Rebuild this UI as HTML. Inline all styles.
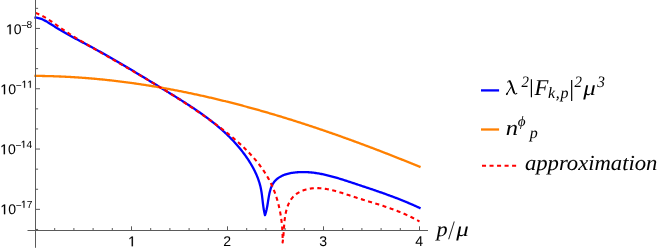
<!DOCTYPE html>
<html><head><meta charset="utf-8"><title>plot</title>
<style>
html,body{margin:0;padding:0;background:#fff;}
body{width:664px;height:252px;overflow:hidden;}
svg{display:block;}
text{font-size:100px;fill:#000;text-rendering:geometricPrecision;}
.ss{font-family:"Liberation Sans",sans-serif;}
.lab text,.lab path{stroke:#000;stroke-width:0.18px;vector-effect:non-scaling-stroke;}
.sr{font-family:"Liberation Serif",serif;}
.si{font-family:"Liberation Serif",serif;font-style:italic;}
</style></head><body>
<svg width="664" height="252" viewBox="0 0 664 252">
<rect width="664" height="252" fill="#fff"/>
<g fill="none" stroke-width="2.3" stroke-linejoin="round">
<path d="M35.50,17.68 L36.51,17.72 L37.51,17.84 L38.48,18.03 L39.45,18.28 L40.39,18.58 L41.33,18.93 L42.25,19.31 L43.16,19.73 L44.06,20.17 L44.95,20.64 L45.83,21.12 L46.70,21.62 L47.56,22.13 L48.42,22.64 L49.27,23.16 L50.12,23.69 L50.97,24.23 L51.81,24.76 L52.65,25.30 L53.49,25.84 L54.33,26.38 L55.17,26.92 L56.02,27.45 L56.86,27.99 L57.71,28.51 L58.56,29.04 L59.41,29.55 L60.27,30.07 L61.13,30.58 L61.99,31.09 L62.85,31.60 L63.72,32.10 L64.58,32.60 L65.45,33.09 L66.32,33.59 L67.20,34.08 L68.07,34.57 L68.95,35.05 L69.82,35.54 L70.70,36.02 L71.58,36.50 L72.47,36.98 L73.35,37.45 L74.23,37.93 L75.12,38.40 L76.00,38.88 L76.89,39.35 L77.77,39.82 L78.66,40.29 L79.55,40.76 L80.43,41.22 L81.32,41.69 L82.21,42.16 L83.10,42.63 L83.98,43.09 L84.87,43.56 L85.76,44.03 L86.64,44.50 L87.53,44.97 L88.41,45.43 L89.30,45.90 L90.18,46.38 L91.06,46.85 L91.95,47.32 L92.83,47.80 L93.71,48.27 L94.58,48.75 L95.46,49.23 L96.34,49.70 L97.21,50.18 L98.09,50.66 L98.96,51.15 L99.84,51.63 L100.71,52.11 L101.58,52.60 L102.45,53.08 L103.32,53.57 L104.19,54.06 L105.06,54.55 L105.92,55.04 L106.79,55.53 L107.66,56.02 L108.52,56.51 L109.39,57.00 L110.25,57.50 L111.12,57.99 L111.98,58.49 L112.84,58.98 L113.70,59.48 L114.57,59.98 L115.43,60.48 L116.29,60.97 L117.15,61.47 L118.01,61.98 L118.86,62.48 L119.72,62.98 L120.58,63.48 L121.44,63.99 L122.30,64.49 L123.15,64.99 L124.01,65.50 L124.87,66.01 L125.72,66.51 L126.58,67.02 L127.43,67.53 L128.29,68.04 L129.14,68.55 L130.00,69.06 L130.85,69.57 L131.71,70.08 L132.56,70.59 L133.41,71.10 L134.27,71.61 L135.12,72.13 L135.97,72.64 L136.83,73.15 L137.68,73.67 L138.53,74.18 L139.39,74.70 L140.24,75.21 L141.09,75.73 L141.95,76.25 L142.80,76.76 L143.65,77.28 L144.51,77.80 L145.36,78.32 L146.21,78.83 L147.07,79.35 L147.92,79.87 L148.77,80.39 L149.63,80.91 L150.48,81.43 L151.34,81.95 L152.19,82.47 L153.05,82.99 L153.90,83.51 L154.76,84.03 L155.61,84.55 L156.47,85.07 L157.33,85.60 L158.18,86.12 L159.04,86.64 L159.90,87.16 L160.75,87.68 L161.61,88.20 L162.47,88.73 L163.33,89.25 L164.19,89.77 L165.05,90.29 L165.91,90.82 L166.77,91.34 L167.63,91.87 L168.49,92.39 L169.35,92.91 L170.21,93.44 L171.07,93.97 L171.93,94.49 L172.79,95.02 L173.64,95.55 L174.50,96.08 L175.36,96.61 L176.22,97.14 L177.08,97.67 L177.93,98.20 L178.79,98.74 L179.64,99.27 L180.50,99.81 L181.35,100.35 L182.20,100.88 L183.05,101.42 L183.90,101.96 L184.75,102.51 L185.60,103.05 L186.45,103.60 L187.30,104.14 L188.14,104.69 L188.98,105.24 L189.83,105.79 L190.67,106.35 L191.51,106.90 L192.35,107.46 L193.18,108.02 L194.02,108.58 L194.85,109.14 L195.68,109.70 L196.51,110.27 L197.34,110.84 L198.16,111.41 L198.99,111.98 L199.81,112.56 L200.63,113.14 L201.45,113.72 L202.26,114.30 L203.08,114.88 L203.89,115.47 L204.70,116.06 L205.50,116.65 L206.31,117.24 L207.11,117.84 L207.91,118.44 L208.70,119.05 L209.50,119.65 L210.29,120.26 L211.08,120.87 L211.86,121.48 L212.64,122.10 L213.42,122.72 L214.20,123.35 L214.97,123.97 L215.75,124.60 L216.51,125.23 L217.28,125.87 L218.04,126.51 L218.80,127.15 L219.55,127.80 L220.30,128.45 L221.05,129.10 L221.79,129.76 L222.53,130.42 L223.27,131.08 L224.00,131.75 L224.73,132.42 L225.46,133.10 L226.18,133.78 L226.90,134.46 L227.61,135.15 L228.32,135.84 L229.03,136.53 L229.73,137.23 L230.43,137.93 L231.12,138.64 L231.81,139.35 L232.49,140.07 L233.18,140.79 L233.85,141.51 L234.52,142.24 L235.19,142.97 L235.85,143.71 L236.51,144.45 L237.16,145.20 L237.81,145.95 L238.46,146.71 L239.09,147.47 L239.73,148.24 L240.36,149.01 L240.98,149.78 L241.60,150.56 L242.21,151.35 L242.82,152.14 L243.42,152.93 L244.02,153.73 L244.61,154.54 L245.20,155.35 L245.78,156.17 L246.36,156.99 L246.93,157.81 L247.49,158.65 L248.05,159.48 L248.61,160.33 L249.15,161.18 L249.69,162.03 L250.22,162.89 L250.75,163.75 L251.26,164.62 L251.77,165.49 L252.27,166.37 L252.76,167.25 L253.25,168.14 L253.72,169.03 L254.18,169.93 L254.63,170.83 L255.08,171.74 L255.51,172.65 L255.93,173.56 L256.34,174.48 L256.74,175.41 L257.12,176.34 L257.50,177.27 L257.86,178.20 L258.21,179.14 L258.54,180.09 L258.86,181.04 L259.17,181.99 L259.47,182.94 L259.74,183.90 L260.01,184.87 L260.26,185.83 L260.49,186.80 L260.71,187.78 L260.91,188.75 L261.10,189.73 L261.28,190.72 L261.44,191.70 L261.60,192.69 L261.74,193.68 L261.88,194.67 L262.01,195.66 L262.13,196.66 L262.25,197.65 L262.37,198.65 L262.49,199.65 L262.60,200.64 L262.72,201.64 L262.83,202.64 L262.95,203.63 L263.08,204.63 L263.21,205.62 L263.34,206.61 L263.49,207.60 L263.64,208.59 L263.80,209.58 L263.98,210.56 L264.16,211.55 L264.37,212.52 L264.58,213.50 L264.81,214.47 L265.00,215.20 L265.30,214.32 L265.58,213.44 L265.84,212.54 L266.09,211.63 L266.32,210.72 L266.54,209.79 L266.74,208.85 L266.93,207.89 L267.12,206.93 L267.30,205.95 L267.47,204.96 L267.63,203.96 L267.80,202.94 L267.96,201.91 L268.13,200.86 L268.30,199.80 L268.47,198.73 L268.65,197.66 L268.83,196.58 L269.03,195.49 L269.24,194.42 L269.47,193.34 L269.71,192.28 L269.97,191.23 L270.26,190.19 L270.56,189.18 L270.89,188.18 L271.25,187.21 L271.64,186.26 L272.06,185.35 L272.52,184.47 L273.01,183.63 L273.53,182.82 L274.09,182.05 L274.68,181.32 L275.31,180.62 L275.96,179.96 L276.64,179.33 L277.35,178.73 L278.09,178.17 L278.85,177.63 L279.64,177.13 L280.45,176.65 L281.28,176.21 L282.14,175.79 L283.01,175.40 L283.90,175.03 L284.81,174.70 L285.73,174.38 L286.67,174.09 L287.62,173.82 L288.58,173.58 L289.55,173.36 L290.53,173.15 L291.52,172.97 L292.52,172.81 L293.52,172.66 L294.53,172.54 L295.54,172.43 L296.55,172.33 L297.57,172.25 L298.58,172.19 L299.59,172.14 L300.60,172.10 L301.61,172.08 L302.62,172.07 L303.62,172.07 L304.63,172.08 L305.63,172.11 L306.63,172.15 L307.63,172.20 L308.63,172.26 L309.62,172.33 L310.62,172.42 L311.62,172.51 L312.61,172.62 L313.60,172.73 L314.59,172.86 L315.58,172.99 L316.57,173.14 L317.56,173.29 L318.54,173.46 L319.53,173.63 L320.51,173.81 L321.49,174.00 L322.47,174.19 L323.45,174.40 L324.43,174.61 L325.41,174.83 L326.39,175.05 L327.36,175.28 L328.34,175.52 L329.31,175.77 L330.29,176.02 L331.26,176.27 L332.23,176.53 L333.20,176.80 L334.17,177.07 L335.14,177.35 L336.10,177.63 L337.07,177.91 L338.03,178.20 L339.00,178.49 L339.96,178.79 L340.93,179.09 L341.89,179.39 L342.85,179.69 L343.81,180.00 L344.77,180.31 L345.73,180.62 L346.69,180.93 L347.64,181.25 L348.60,181.56 L349.56,181.88 L350.51,182.19 L351.47,182.51 L352.42,182.83 L353.38,183.14 L354.33,183.46 L355.28,183.77 L356.24,184.09 L357.19,184.40 L358.14,184.72 L359.09,185.03 L360.04,185.35 L360.99,185.66 L361.94,185.98 L362.88,186.29 L363.83,186.61 L364.78,186.92 L365.73,187.24 L366.67,187.56 L367.62,187.87 L368.56,188.19 L369.51,188.51 L370.45,188.82 L371.39,189.14 L372.34,189.46 L373.28,189.78 L374.22,190.10 L375.16,190.42 L376.10,190.75 L377.04,191.07 L377.98,191.39 L378.92,191.72 L379.86,192.05 L380.80,192.38 L381.73,192.70 L382.67,193.04 L383.61,193.37 L384.54,193.70 L385.48,194.04 L386.41,194.37 L387.35,194.71 L388.28,195.05 L389.21,195.39 L390.15,195.74 L391.08,196.08 L392.01,196.43 L392.94,196.78 L393.87,197.13 L394.80,197.48 L395.73,197.84 L396.66,198.19 L397.59,198.55 L398.52,198.92 L399.45,199.28 L400.37,199.65 L401.30,200.02 L402.23,200.39 L403.15,200.76 L404.08,201.14 L405.00,201.52 L405.93,201.90 L406.85,202.29 L407.77,202.68 L408.70,203.07 L409.62,203.46 L410.54,203.86 L411.46,204.26 L412.38,204.66 L413.31,205.07 L414.23,205.48 L415.15,205.89 L416.07,206.31 L416.98,206.73 L417.90,207.15 L418.82,207.58 L419.50,207.90" stroke="#0000ff" stroke-linecap="square"/>
<path d="M35.50,75.90 L36.50,75.91 L37.51,75.92 L38.51,75.93 L39.52,75.94 L40.52,75.95 L41.53,75.97 L42.53,75.98 L43.53,76.00 L44.54,76.02 L45.54,76.04 L46.55,76.06 L47.55,76.08 L48.55,76.11 L49.55,76.13 L50.56,76.16 L51.56,76.19 L52.56,76.22 L53.56,76.25 L54.57,76.29 L55.57,76.32 L56.57,76.36 L57.57,76.40 L58.57,76.43 L59.57,76.48 L60.57,76.52 L61.58,76.56 L62.58,76.61 L63.58,76.65 L64.58,76.70 L65.58,76.75 L66.58,76.80 L67.58,76.85 L68.58,76.90 L69.58,76.96 L70.58,77.01 L71.58,77.07 L72.58,77.13 L73.57,77.19 L74.57,77.25 L75.57,77.32 L76.57,77.38 L77.57,77.45 L78.57,77.51 L79.56,77.58 L80.56,77.65 L81.56,77.72 L82.56,77.79 L83.56,77.87 L84.55,77.94 L85.55,78.02 L86.55,78.10 L87.54,78.18 L88.54,78.26 L89.54,78.34 L90.53,78.42 L91.53,78.51 L92.52,78.59 L93.52,78.68 L94.51,78.77 L95.51,78.86 L96.50,78.95 L97.50,79.04 L98.49,79.14 L99.49,79.23 L100.48,79.33 L101.48,79.43 L102.47,79.52 L103.47,79.62 L104.46,79.73 L105.45,79.83 L106.45,79.93 L107.44,80.04 L108.43,80.15 L109.43,80.25 L110.42,80.36 L111.41,80.47 L112.40,80.59 L113.40,80.70 L114.39,80.81 L115.38,80.93 L116.37,81.05 L117.36,81.16 L118.35,81.28 L119.34,81.41 L120.34,81.53 L121.33,81.65 L122.32,81.78 L123.31,81.90 L124.30,82.03 L125.29,82.16 L126.28,82.29 L127.27,82.42 L128.26,82.55 L129.25,82.68 L130.24,82.82 L131.22,82.95 L132.21,83.09 L133.20,83.23 L134.19,83.37 L135.18,83.51 L136.17,83.65 L137.15,83.79 L138.14,83.93 L139.13,84.08 L140.12,84.23 L141.10,84.37 L142.09,84.52 L143.08,84.67 L144.06,84.82 L145.05,84.98 L146.04,85.13 L147.02,85.29 L148.01,85.44 L148.99,85.60 L149.98,85.76 L150.97,85.92 L151.95,86.08 L152.94,86.24 L153.92,86.40 L154.90,86.57 L155.89,86.73 L156.87,86.90 L157.86,87.07 L158.84,87.23 L159.82,87.40 L160.81,87.58 L161.79,87.75 L162.77,87.92 L163.76,88.10 L164.74,88.27 L165.72,88.45 L166.70,88.63 L167.69,88.80 L168.67,88.98 L169.65,89.17 L170.63,89.35 L171.61,89.53 L172.59,89.72 L173.58,89.90 L174.56,90.09 L175.54,90.28 L176.52,90.46 L177.50,90.65 L178.48,90.85 L179.46,91.04 L180.44,91.23 L181.42,91.43 L182.40,91.62 L183.37,91.82 L184.35,92.01 L185.33,92.21 L186.31,92.41 L187.29,92.61 L188.27,92.82 L189.24,93.02 L190.22,93.22 L191.20,93.43 L192.18,93.63 L193.15,93.84 L194.13,94.05 L195.11,94.26 L196.08,94.47 L197.06,94.68 L198.04,94.89 L199.01,95.11 L199.99,95.32 L200.96,95.53 L201.94,95.75 L202.91,95.97 L203.89,96.19 L204.86,96.41 L205.84,96.63 L206.81,96.85 L207.79,97.07 L208.76,97.29 L209.73,97.52 L210.71,97.74 L211.68,97.97 L212.65,98.20 L213.62,98.43 L214.60,98.66 L215.57,98.89 L216.54,99.12 L217.51,99.35 L218.49,99.58 L219.46,99.82 L220.43,100.05 L221.40,100.29 L222.37,100.53 L223.34,100.77 L224.31,101.00 L225.28,101.24 L226.25,101.49 L227.22,101.73 L228.19,101.97 L229.16,102.21 L230.13,102.46 L231.10,102.71 L232.07,102.95 L233.04,103.20 L234.01,103.45 L234.97,103.70 L235.94,103.95 L236.91,104.20 L237.88,104.45 L238.85,104.71 L239.81,104.96 L240.78,105.22 L241.75,105.47 L242.71,105.73 L243.68,105.99 L244.65,106.24 L245.61,106.50 L246.58,106.76 L247.54,107.03 L248.51,107.29 L249.47,107.55 L250.44,107.82 L251.40,108.08 L252.37,108.35 L253.33,108.61 L254.30,108.88 L255.26,109.15 L256.22,109.42 L257.19,109.69 L258.15,109.96 L259.11,110.23 L260.08,110.50 L261.04,110.78 L262.00,111.05 L262.96,111.33 L263.92,111.60 L264.89,111.88 L265.85,112.16 L266.81,112.44 L267.77,112.72 L268.73,113.00 L269.69,113.28 L270.65,113.56 L271.61,113.84 L272.57,114.13 L273.53,114.41 L274.49,114.70 L275.45,114.98 L276.41,115.27 L277.37,115.56 L278.32,115.85 L279.28,116.14 L280.24,116.43 L281.20,116.72 L282.16,117.01 L283.11,117.30 L284.07,117.59 L285.03,117.89 L285.99,118.18 L286.94,118.48 L287.90,118.78 L288.85,119.07 L289.81,119.37 L290.77,119.67 L291.72,119.97 L292.68,120.27 L293.63,120.57 L294.59,120.87 L295.54,121.18 L296.49,121.48 L297.45,121.78 L298.40,122.09 L299.36,122.39 L300.31,122.70 L301.26,123.01 L302.22,123.31 L303.17,123.62 L304.12,123.93 L305.07,124.24 L306.02,124.55 L306.98,124.86 L307.93,125.18 L308.88,125.49 L309.83,125.80 L310.78,126.12 L311.73,126.43 L312.68,126.75 L313.63,127.06 L314.58,127.38 L315.53,127.70 L316.48,128.02 L317.43,128.34 L318.38,128.66 L319.33,128.98 L320.28,129.30 L321.22,129.62 L322.17,129.94 L323.12,130.27 L324.07,130.59 L325.01,130.92 L325.96,131.24 L326.91,131.57 L327.86,131.89 L328.80,132.22 L329.75,132.55 L330.69,132.88 L331.64,133.21 L332.58,133.54 L333.53,133.87 L334.47,134.20 L335.42,134.53 L336.36,134.86 L337.31,135.20 L338.25,135.53 L339.20,135.86 L340.14,136.20 L341.08,136.53 L342.03,136.87 L342.97,137.21 L343.91,137.55 L344.85,137.88 L345.80,138.22 L346.74,138.56 L347.68,138.90 L348.62,139.24 L349.56,139.58 L350.50,139.92 L351.44,140.27 L352.38,140.61 L353.32,140.95 L354.26,141.30 L355.20,141.64 L356.14,141.99 L357.08,142.33 L358.02,142.68 L358.96,143.03 L359.90,143.37 L360.83,143.72 L361.77,144.07 L362.71,144.42 L363.65,144.77 L364.58,145.12 L365.52,145.47 L366.46,145.82 L367.39,146.17 L368.33,146.53 L369.27,146.88 L370.20,147.23 L371.14,147.59 L372.07,147.94 L373.01,148.30 L373.94,148.65 L374.88,149.01 L375.81,149.37 L376.74,149.72 L377.68,150.08 L378.61,150.44 L379.55,150.80 L380.48,151.16 L381.41,151.52 L382.34,151.88 L383.28,152.24 L384.21,152.60 L385.14,152.96 L386.07,153.32 L387.00,153.69 L387.93,154.05 L388.86,154.41 L389.79,154.78 L390.72,155.14 L391.65,155.51 L392.58,155.87 L393.51,156.24 L394.44,156.61 L395.37,156.97 L396.30,157.34 L397.23,157.71 L398.15,158.08 L399.08,158.45 L400.01,158.82 L400.94,159.19 L401.86,159.56 L402.79,159.93 L403.72,160.30 L404.64,160.67 L405.57,161.04 L406.50,161.41 L407.42,161.79 L408.35,162.16 L409.27,162.53 L410.20,162.91 L411.12,163.28 L412.04,163.66 L412.97,164.03 L413.89,164.41 L414.82,164.78 L415.74,165.16 L416.66,165.54 L417.58,165.91 L418.51,166.29 L419.43,166.67 L419.50,166.70" stroke="#ff8000" stroke-linecap="square"/>
<path d="M35.50,12.90 L36.45,13.26 L37.39,13.64 L38.32,14.03 L39.24,14.44 L40.15,14.87 L41.05,15.30 L41.94,15.75 L42.82,16.21 L43.69,16.69 L44.56,17.17 L45.42,17.67 L46.27,18.17 L47.12,18.69 L47.96,19.21 L48.79,19.74 L49.62,20.28 L50.45,20.82 L51.27,21.37 L52.09,21.93 L52.90,22.49 L53.71,23.05 L54.53,23.62 L55.34,24.19 L56.15,24.77 L56.95,25.34 L57.76,25.92 L58.57,26.49 L59.38,27.07 L60.20,27.64 L61.01,28.22 L61.83,28.79 L62.65,29.36 L63.47,29.92 L64.30,30.48 L65.13,31.04 L65.96,31.59 L66.80,32.15 L67.64,32.69 L68.48,33.24 L69.32,33.78 L70.17,34.32 L71.02,34.86 L71.87,35.40 L72.72,35.93 L73.58,36.46 L74.43,36.99 L75.29,37.52 L76.15,38.04 L77.01,38.57 L77.88,39.09 L78.74,39.61 L79.61,40.13 L80.47,40.64 L81.34,41.16 L82.21,41.67 L83.08,42.19 L83.95,42.70 L84.82,43.21 L85.69,43.72 L86.56,44.23 L87.43,44.74 L88.30,45.24 L89.17,45.75 L90.04,46.26 L90.91,46.76 L91.78,47.27 L92.65,47.77 L93.52,48.28 L94.39,48.78 L95.26,49.29 L96.13,49.79 L97.00,50.30 L97.86,50.80 L98.73,51.30 L99.60,51.80 L100.47,52.31 L101.34,52.81 L102.20,53.31 L103.07,53.81 L103.94,54.31 L104.80,54.81 L105.67,55.31 L106.54,55.81 L107.40,56.31 L108.27,56.81 L109.14,57.31 L110.00,57.81 L110.87,58.31 L111.73,58.81 L112.60,59.31 L113.46,59.81 L114.32,60.31 L115.19,60.81 L116.05,61.31 L116.91,61.81 L117.78,62.30 L118.64,62.80 L119.50,63.30 L120.37,63.80 L121.23,64.30 L122.09,64.80 L122.95,65.30 L123.81,65.80 L124.67,66.30 L125.53,66.80 L126.39,67.30 L127.25,67.80 L128.11,68.30 L128.97,68.80 L129.83,69.30 L130.69,69.80 L131.55,70.30 L132.41,70.80 L133.27,71.30 L134.12,71.81 L134.98,72.31 L135.84,72.81 L136.70,73.31 L137.55,73.82 L138.41,74.32 L139.26,74.82 L140.12,75.33 L140.98,75.83 L141.83,76.34 L142.69,76.84 L143.54,77.35 L144.39,77.85 L145.25,78.36 L146.10,78.87 L146.95,79.38 L147.81,79.88 L148.66,80.39 L149.51,80.90 L150.36,81.41 L151.21,81.92 L152.06,82.43 L152.91,82.94 L153.76,83.46 L154.61,83.97 L155.46,84.48 L156.31,85.00 L157.16,85.51 L158.01,86.03 L158.86,86.55 L159.71,87.06 L160.55,87.58 L161.40,88.10 L162.25,88.62 L163.09,89.14 L163.94,89.66 L164.78,90.18 L165.63,90.70 L166.47,91.23 L167.32,91.75 L168.16,92.28 L169.01,92.80 L169.85,93.33 L170.69,93.86 L171.53,94.39 L172.38,94.92 L173.22,95.45 L174.06,95.98 L174.90,96.51 L175.74,97.05 L176.58,97.58 L177.42,98.12 L178.26,98.65 L179.10,99.19 L179.93,99.73 L180.77,100.27 L181.61,100.81 L182.45,101.35 L183.28,101.90 L184.12,102.44 L184.96,102.99 L185.79,103.54 L186.62,104.08 L187.46,104.63 L188.29,105.19 L189.13,105.74 L189.96,106.29 L190.79,106.85 L191.62,107.40 L192.46,107.96 L193.29,108.52 L194.12,109.08 L194.95,109.64 L195.78,110.20 L196.61,110.77 L197.44,111.33 L198.26,111.90 L199.09,112.47 L199.92,113.04 L200.75,113.61 L201.57,114.18 L202.40,114.75 L203.22,115.33 L204.05,115.91 L204.87,116.49 L205.70,117.07 L206.52,117.65 L207.34,118.23 L208.17,118.82 L208.99,119.40 L209.81,119.99 L210.63,120.58 L211.45,121.17 L212.27,121.77 L213.09,122.36 L213.91,122.96 L214.73,123.56 L215.54,124.16 L216.36,124.76 L217.18,125.36 L217.99,125.97 L218.80,126.58 L219.61,127.19 L220.42,127.80 L221.23,128.41 L222.04,129.03 L222.85,129.65 L223.65,130.27 L224.45,130.89 L225.25,131.52 L226.05,132.15 L226.84,132.78 L227.64,133.41 L228.43,134.04 L229.22,134.68 L230.00,135.32 L230.79,135.96 L231.57,136.61 L232.35,137.26 L233.12,137.91 L233.90,138.56 L234.66,139.22 L235.43,139.87 L236.19,140.54 L236.95,141.20 L237.71,141.87 L238.46,142.54 L239.21,143.21 L239.96,143.89 L240.70,144.57 L241.44,145.25 L242.17,145.94 L242.90,146.63 L243.62,147.32 L244.35,148.01 L245.06,148.71 L245.78,149.42 L246.48,150.12 L247.19,150.83 L247.89,151.54 L248.58,152.26 L249.27,152.98 L249.95,153.70 L250.63,154.43 L251.31,155.16 L251.97,155.90 L252.64,156.63 L253.29,157.38 L253.95,158.12 L254.59,158.87 L255.23,159.62 L255.87,160.38 L256.50,161.14 L257.12,161.91 L257.74,162.68 L258.35,163.45 L258.95,164.23 L259.55,165.01 L260.14,165.80 L260.73,166.59 L261.31,167.39 L261.88,168.18 L262.44,168.99 L263.00,169.80 L263.55,170.61 L264.10,171.43 L264.63,172.25 L265.16,173.07 L265.69,173.91 L266.20,174.74 L266.71,175.58 L267.21,176.43 L267.70,177.28 L268.18,178.13 L268.66,178.99 L269.13,179.86 L269.59,180.73 L270.04,181.60 L270.48,182.48 L270.92,183.36 L271.34,184.25 L271.76,185.15 L272.17,186.05 L272.57,186.95 L272.96,187.86 L273.34,188.78 L273.72,189.70 L274.09,190.62 L274.44,191.55 L274.79,192.48 L275.13,193.42 L275.47,194.36 L275.79,195.31 L276.11,196.26 L276.42,197.21 L276.72,198.16 L277.01,199.12 L277.29,200.09 L277.57,201.05 L277.84,202.02 L278.10,202.99 L278.35,203.97 L278.60,204.95 L278.84,205.93 L279.06,206.91 L279.29,207.89 L279.50,208.88 L279.71,209.87 L279.91,210.86 L280.10,211.85 L280.28,212.85 L280.46,213.84 L280.63,214.84 L280.79,215.84 L280.95,216.84 L281.10,217.84 L281.24,218.84 L281.37,219.84 L281.50,220.84 L281.62,221.85 L281.73,222.85 L281.84,223.85 L281.93,224.86 L282.03,225.86 L282.11,226.87 L282.19,227.87 L282.26,228.87 L282.33,229.87 L282.39,230.88 L282.44,231.88 L282.48,232.88 L282.52,233.88 L282.56,234.87 L282.58,235.87 L282.60,236.87 L282.62,237.86 L282.62,238.85 L282.63,239.84 L282.62,240.83 L282.61,241.82 L282.60,242.50 L282.75,241.56 L282.88,240.62 L283.00,239.66 L283.12,238.70 L283.22,237.73 L283.31,236.75 L283.40,235.77 L283.48,234.78 L283.56,233.79 L283.63,232.79 L283.70,231.78 L283.77,230.78 L283.84,229.76 L283.91,228.75 L283.97,227.73 L284.05,226.71 L284.12,225.69 L284.20,224.67 L284.28,223.65 L284.37,222.62 L284.47,221.60 L284.57,220.57 L284.69,219.55 L284.82,218.53 L284.95,217.51 L285.10,216.49 L285.27,215.48 L285.44,214.47 L285.64,213.46 L285.85,212.45 L286.08,211.46 L286.33,210.46 L286.59,209.47 L286.88,208.49 L287.19,207.52 L287.52,206.56 L287.88,205.61 L288.25,204.68 L288.66,203.76 L289.09,202.85 L289.54,201.97 L290.02,201.11 L290.53,200.27 L291.07,199.45 L291.64,198.66 L292.24,197.90 L292.87,197.16 L293.53,196.45 L294.23,195.78 L294.95,195.14 L295.70,194.52 L296.48,193.94 L297.28,193.39 L298.11,192.87 L298.95,192.37 L299.81,191.91 L300.69,191.47 L301.58,191.07 L302.49,190.69 L303.40,190.34 L304.33,190.01 L305.26,189.72 L306.20,189.45 L307.14,189.21 L308.08,188.99 L309.03,188.80 L309.98,188.64 L310.93,188.49 L311.89,188.38 L312.85,188.28 L313.81,188.21 L314.78,188.16 L315.74,188.13 L316.71,188.12 L317.69,188.14 L318.66,188.17 L319.64,188.22 L320.62,188.28 L321.60,188.37 L322.58,188.47 L323.57,188.59 L324.55,188.72 L325.54,188.87 L326.53,189.04 L327.52,189.21 L328.51,189.40 L329.50,189.61 L330.49,189.82 L331.49,190.05 L332.48,190.28 L333.47,190.53 L334.47,190.79 L335.46,191.05 L336.46,191.33 L337.45,191.61 L338.45,191.90 L339.44,192.19 L340.43,192.49 L341.43,192.79 L342.42,193.10 L343.41,193.42 L344.40,193.74 L345.39,194.05 L346.38,194.38 L347.37,194.70 L348.36,195.02 L349.34,195.35 L350.32,195.67 L351.30,195.99 L352.28,196.31 L353.26,196.63 L354.24,196.95 L355.21,197.26 L356.18,197.57 L357.15,197.88 L358.12,198.18 L359.08,198.49 L360.05,198.79 L361.01,199.09 L361.97,199.38 L362.93,199.68 L363.88,199.97 L364.84,200.26 L365.79,200.56 L366.74,200.85 L367.69,201.14 L368.64,201.43 L369.58,201.71 L370.53,202.00 L371.47,202.29 L372.41,202.58 L373.35,202.87 L374.29,203.16 L375.23,203.45 L376.17,203.74 L377.10,204.03 L378.03,204.33 L378.97,204.62 L379.90,204.92 L380.83,205.21 L381.76,205.51 L382.69,205.81 L383.61,206.12 L384.54,206.42 L385.46,206.73 L386.39,207.04 L387.31,207.35 L388.23,207.67 L389.16,207.99 L390.08,208.31 L391.00,208.64 L391.92,208.97 L392.84,209.30 L393.75,209.64 L394.67,209.98 L395.59,210.33 L396.51,210.68 L397.42,211.04 L398.34,211.40 L399.25,211.76 L400.17,212.13 L401.08,212.51 L402.00,212.89 L402.91,213.28 L403.82,213.67 L404.74,214.07 L405.65,214.48 L406.56,214.89 L407.48,215.31 L408.39,215.73 L409.30,216.16 L410.21,216.60 L411.13,217.05 L412.04,217.50 L412.95,217.96 L413.87,218.43 L414.78,218.91 L415.69,219.39 L416.61,219.89 L417.52,220.39 L418.44,220.90 L419.35,221.42 L419.50,221.50" stroke="#ff0000" stroke-width="2.1" stroke-dasharray="4.05,3.47"/>
</g>
<g stroke="#5a5a5a" stroke-width="1" fill="none">
<line x1="35.5" y1="0" x2="35.5" y2="247.8"/>
<line x1="27.5" y1="230.5" x2="428.0" y2="230.5"/>
<line x1="35.50" y1="8.35" x2="38.10" y2="8.35"/>
<line x1="35.50" y1="28.45" x2="40.00" y2="28.45"/>
<line x1="35.50" y1="48.55" x2="38.10" y2="48.55"/>
<line x1="35.50" y1="68.65" x2="38.10" y2="68.65"/>
<line x1="35.50" y1="88.75" x2="40.00" y2="88.75"/>
<line x1="35.50" y1="108.85" x2="38.10" y2="108.85"/>
<line x1="35.50" y1="128.95" x2="38.10" y2="128.95"/>
<line x1="35.50" y1="149.05" x2="40.00" y2="149.05"/>
<line x1="35.50" y1="169.15" x2="38.10" y2="169.15"/>
<line x1="35.50" y1="189.25" x2="38.10" y2="189.25"/>
<line x1="35.50" y1="209.35" x2="40.00" y2="209.35"/>
<line x1="35.50" y1="229.45" x2="38.10" y2="229.45"/>
<line x1="54.70" y1="230.50" x2="54.70" y2="228.00"/>
<line x1="73.90" y1="230.50" x2="73.90" y2="228.00"/>
<line x1="93.10" y1="230.50" x2="93.10" y2="228.00"/>
<line x1="112.30" y1="230.50" x2="112.30" y2="228.00"/>
<line x1="131.50" y1="230.50" x2="131.50" y2="226.30"/>
<line x1="150.70" y1="230.50" x2="150.70" y2="228.00"/>
<line x1="169.90" y1="230.50" x2="169.90" y2="228.00"/>
<line x1="189.10" y1="230.50" x2="189.10" y2="228.00"/>
<line x1="208.30" y1="230.50" x2="208.30" y2="228.00"/>
<line x1="227.50" y1="230.50" x2="227.50" y2="226.30"/>
<line x1="246.70" y1="230.50" x2="246.70" y2="228.00"/>
<line x1="265.90" y1="230.50" x2="265.90" y2="228.00"/>
<line x1="285.10" y1="230.50" x2="285.10" y2="228.00"/>
<line x1="304.30" y1="230.50" x2="304.30" y2="228.00"/>
<line x1="323.50" y1="230.50" x2="323.50" y2="226.30"/>
<line x1="342.70" y1="230.50" x2="342.70" y2="228.00"/>
<line x1="361.90" y1="230.50" x2="361.90" y2="228.00"/>
<line x1="381.10" y1="230.50" x2="381.10" y2="228.00"/>
<line x1="400.30" y1="230.50" x2="400.30" y2="228.00"/>
<line x1="419.50" y1="230.50" x2="419.50" y2="226.30"/>
</g>
<g style="opacity:0.999">
<g class="lab">
<path d="M515 0L515 -1237L197 -1010L197 -1180L530 -1409L696 -1409L696 0Z" transform="matrix(0.00688 0 0 0.00688 5.99 34.19)" fill="#000"/>
<text class="ss" transform="matrix(0.1410 0 0 0.1410 13.83 34.19)">0</text>
<text class="ss" transform="matrix(0.1020 0 0 0.1020 21.32 28.74)">−</text>
<text class="ss" transform="matrix(0.1020 0 0 0.1020 26.58 27.84)">8</text>
<path d="M515 0L515 -1237L197 -1010L197 -1180L530 -1409L696 -1409L696 0Z" transform="matrix(0.00688 0 0 0.00688 0.32 94.19)" fill="#000"/>
<text class="ss" transform="matrix(0.1410 0 0 0.1410 8.16 94.19)">0</text>
<text class="ss" transform="matrix(0.1020 0 0 0.1020 15.65 88.74)">−</text>
<path d="M515 0L515 -1237L197 -1010L197 -1180L530 -1409L696 -1409L696 0Z" transform="matrix(0.00498 0 0 0.00498 21.61 87.84)" fill="#000"/>
<path d="M515 0L515 -1237L197 -1010L197 -1180L530 -1409L696 -1409L696 0Z" transform="matrix(0.00498 0 0 0.00498 27.28 87.84)" fill="#000"/>
<path d="M515 0L515 -1237L197 -1010L197 -1180L530 -1409L696 -1409L696 0Z" transform="matrix(0.00688 0 0 0.00688 0.17 154.19)" fill="#000"/>
<text class="ss" transform="matrix(0.1410 0 0 0.1410 8.02 154.19)">0</text>
<text class="ss" transform="matrix(0.1020 0 0 0.1020 15.50 148.74)">−</text>
<path d="M515 0L515 -1237L197 -1010L197 -1180L530 -1409L696 -1409L696 0Z" transform="matrix(0.00498 0 0 0.00498 20.76 147.84)" fill="#000"/>
<text class="ss" transform="matrix(0.1020 0 0 0.1020 26.43 147.84)">4</text>
<path d="M515 0L515 -1237L197 -1010L197 -1180L530 -1409L696 -1409L696 0Z" transform="matrix(0.00688 0 0 0.00688 0.39 214.19)" fill="#000"/>
<text class="ss" transform="matrix(0.1410 0 0 0.1410 8.23 214.19)">0</text>
<text class="ss" transform="matrix(0.1020 0 0 0.1020 15.72 208.74)">−</text>
<path d="M515 0L515 -1237L197 -1010L197 -1180L530 -1409L696 -1409L696 0Z" transform="matrix(0.00498 0 0 0.00498 20.97 207.84)" fill="#000"/>
<text class="ss" transform="matrix(0.1020 0 0 0.1020 26.65 207.84)">7</text>
<path d="M515 0L515 -1237L197 -1010L197 -1180L530 -1409L696 -1409L696 0Z" transform="matrix(0.00688 0 0 0.00688 128.13 246.25)" fill="#000"/>
<text class="ss" transform="matrix(0.1410 0 0 0.1410 223.28 246.25)">2</text>
<text class="ss" transform="matrix(0.1410 0 0 0.1410 319.32 246.25)">3</text>
<text class="ss" transform="matrix(0.1410 0 0 0.1410 415.32 246.25)">4</text>
</g>
<!-- legend -->
<g fill="none" stroke-width="2.3">
<line x1="481.0" y1="90.4" x2="499.1" y2="90.4" stroke="#0000ff"/>
<line x1="481.0" y1="129.5" x2="499.1" y2="129.5" stroke="#ff8000"/>
<line x1="482.0" y1="165.7" x2="516.2" y2="165.7" stroke="#ff0000" stroke-width="2.05" stroke-dasharray="4.05,3.47"/>
</g>
<g class="thin">
<text class="si" style="stroke:#000;stroke-width:0.20px;vector-effect:non-scaling-stroke" transform="matrix(0.2215 0 0 0.2076 436.60 236.28)">p</text>
<text class="si" style="stroke:#000;stroke-width:0.45px;vector-effect:non-scaling-stroke" transform="matrix(0.1600 0 0 0.2661 449.03 239.34)">/</text>
<text class="si" transform="matrix(0.2491 0 0 0.2066 456.22 236.28)">μ</text>
<g fill="none" stroke="#000" stroke-linecap="round" stroke-linejoin="round"><path d="M507.7 82.4Q507.7 80.4 509.3 80.5" stroke-width="0.8"/><path d="M509.4 80.7C511.2 82.5 512.6 89.5 514.2 93.0" stroke-width="1.9" stroke-linecap="butt"/><path d="M514.0 92.4Q515.0 95.0 516.8 93.3" stroke-width="1.1"/><path d="M511.4 86.6L506.6 94.5" stroke-width="1.0"/><path d="M507.6 93.0L506.4 94.7" stroke-width="1.5" stroke-linecap="butt"/></g>
<text class="si" style="stroke:#000;stroke-width:0.12px;vector-effect:non-scaling-stroke" transform="matrix(0.1488 0 0 0.1600 521.49 87.00)">2</text>
<text class="sr" transform="matrix(0.2409 0 0 0.1979 529.09 93.43)">|</text>
<text class="si" style="stroke:#000;stroke-width:0.20px;vector-effect:non-scaling-stroke" transform="matrix(0.2270 0 0 0.2270 534.52 94.85)">F</text>
<text class="si" style="stroke:#000;stroke-width:0.12px;vector-effect:non-scaling-stroke" transform="matrix(0.1600 0 0 0.1600 547.94 98.40)">k</text>
<text class="si" style="stroke:#000;stroke-width:0.12px;vector-effect:non-scaling-stroke" transform="matrix(0.1600 0 0 0.1600 555.77 98.10)">,</text>
<text class="si" style="stroke:#000;stroke-width:0.12px;vector-effect:non-scaling-stroke" transform="matrix(0.1600 0 0 0.1600 560.44 98.40)">p</text>
<text class="sr" transform="matrix(0.2409 0 0 0.2298 569.29 95.64)">|</text>
<text class="si" style="stroke:#000;stroke-width:0.12px;vector-effect:non-scaling-stroke" transform="matrix(0.1488 0 0 0.1600 574.39 87.00)">2</text>
<text class="si" transform="matrix(0.2491 0 0 0.2140 583.32 94.82)">μ</text>
<text class="si" style="stroke:#000;stroke-width:0.12px;vector-effect:non-scaling-stroke" transform="matrix(0.1536 0 0 0.1600 597.32 87.10)">3</text>
<text class="si" style="stroke:#000;stroke-width:0.20px;vector-effect:non-scaling-stroke" transform="matrix(0.2459 0 0 0.2144 505.72 134.60)">n</text>
<text class="si" style="stroke:#000;stroke-width:0.20px;vector-effect:non-scaling-stroke" transform="matrix(0.1507 0 0 0.1434 517.85 125.95)">ϕ</text>
<text class="si" style="stroke:#000;stroke-width:0.12px;vector-effect:non-scaling-stroke" transform="matrix(0.1600 0 0 0.1600 529.64 137.80)">p</text>
<text class="si" style="stroke:#000;stroke-width:0.20px;vector-effect:non-scaling-stroke" transform="matrix(0.2264 0 0 0.2152 524.93 169.85)">approximation</text>
</g>
</g>
</svg>
</body></html>
